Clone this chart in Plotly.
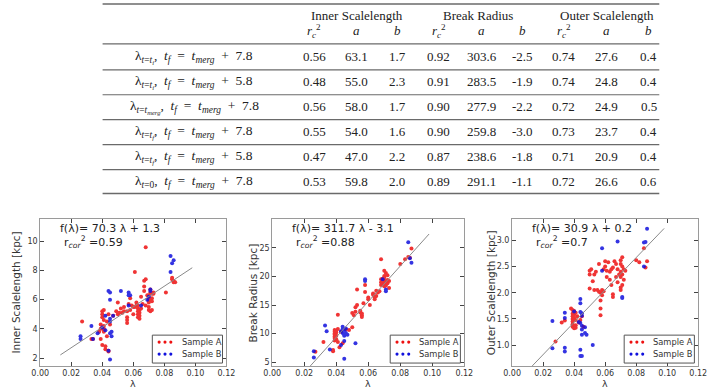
import plotly.graph_objects as go

W, H = 718, 388


def px(x):
    return x / W


def py(y):
    return 1 - y / H


SP = "\u2002"

# ---------------- table data ----------------
row_subs = ["<i>t</i>=<i>t</i><sub><i>i</i></sub>", "<i>t</i>=<i>t</i><sub><i>i</i></sub>",
            "<i>t</i>=<i>t</i><sub><i>merg</i></sub>", "<i>t</i>=<i>t</i><sub><i>f</i></sub>",
            "<i>t</i>=<i>t</i><sub><i>f</i></sub>", "<i>t</i>=0"]
row_tf = ["7.8", "5.8", "7.8", "7.8", "5.8", "7.8"]
group_names = ["Inner Scalelength", "Break Radius", "Outer Scalelength"]
col_heads = ["<i>r</i><sub><i>c</i></sub><sup>2</sup>", "<i>a</i>", "<i>b</i>"]

inner_r2 = ["0.56", "0.48", "0.56", "0.55", "0.47", "0.53"]
inner_a = ["63.1", "55.0", "58.0", "54.0", "47.0", "59.8"]
inner_b = ["1.7", "2.3", "1.7", "1.6", "2.2", "2.0"]
break_r2 = ["0.92", "0.91", "0.90", "0.90", "0.87", "0.89"]
break_a = ["303.6", "283.5", "277.9", "259.8", "238.6", "291.1"]
break_b = ["-2.5", "-1.9", "-2.2", "-3.0", "-1.8", "-1.1"]
outer_r2 = ["0.74", "0.74", "0.72", "0.73", "0.71", "0.72"]
outer_a = ["27.6", "24.8", "24.9", "23.7", "20.9", "26.6"]
outer_b = ["0.4", "0.4", "0.5", "0.4", "0.4", "0.6"]

# ---------------- scatter data ----------------
# Plot 1: inner scalelength
xA1 = [0.027, 0.033, 0.034, 0.038, 0.039, 0.039, 0.039, 0.040, 0.040, 0.040, 0.040, 0.041, 0.041,
       0.041, 0.041, 0.041, 0.041, 0.042, 0.042, 0.043, 0.044, 0.043, 0.044, 0.045, 0.044, 0.047,
       0.049, 0.050, 0.050, 0.051, 0.052, 0.053, 0.054, 0.054, 0.056, 0.056, 0.056, 0.056, 0.057,
       0.058, 0.058, 0.059, 0.060, 0.060, 0.061, 0.061, 0.062, 0.062, 0.063, 0.063, 0.063, 0.063,
       0.063, 0.064, 0.064, 0.064, 0.064, 0.065, 0.065, 0.066, 0.067, 0.067, 0.067, 0.068, 0.068,
       0.068, 0.069, 0.070, 0.070, 0.070, 0.070, 0.070, 0.070, 0.070, 0.071, 0.071, 0.071, 0.071,
       0.072, 0.072, 0.072, 0.072, 0.073, 0.073, 0.081, 0.085, 0.086, 0.086, 0.087, 0.085]
yA1 = [4.5, 3.3, 3.3, 3.8, 4.3, 4.0, 3.3, 2.9, 4.8, 5.0, 5.2, 5.3, 4.6,
       4.2, 4.0, 3.8, 3.9, 2.6, 2.8, 3.5, 2.5, 4.5, 5.0, 4.3, 2.45, 4.9,
       5.2, 5.8, 5.0, 5.1, 5.4, 5.1, 5.5, 5.2, 4.8, 4.6, 4.4, 5.2, 5.7,
       5.3, 6.1, 5.6, 5.5, 5.0, 7.9, 5.5, 5.8, 5.6, 4.8, 5.0, 5.2, 5.4,
       5.6, 4.7, 4.9, 5.1, 5.3, 5.4, 6.2, 5.7, 6.6, 6.9, 7.3, 7.4, 9.6,
       5.6, 6.3, 5.8, 6.0, 6.1, 6.3, 5.3, 5.5, 5.9, 6.0, 5.2, 6.5, 6.7,
       5.3, 6.4, 6.1, 5.9, 6.4, 6.5, 6.5, 7.4, 7.3, 7.2, 7.2, 7.5]
xB1 = [0.026, 0.026, 0.033, 0.034, 0.037, 0.040, 0.042, 0.042, 0.044, 0.045, 0.045, 0.045, 0.045,
       0.045, 0.046, 0.046, 0.044, 0.045, 0.047, 0.052, 0.057, 0.057, 0.057, 0.058, 0.065, 0.069,
       0.070, 0.071, 0.071, 0.084, 0.085, 0.086, 0.084]
yB1 = [3.5, 3.3, 4.2, 3.3, 3.7, 4.1, 4.9, 3.9, 6.6, 6.5, 6.0, 4.5, 4.7,
       3.7, 3.5, 3.8, 2.5, 1.9, 4.9, 6.6, 6.5, 6.3, 5.6, 6.3, 5.6, 6.0,
       6.2, 6.7, 6.6, 9.0, 8.5, 8.7, 7.9]

# Plot 2: break radius
xA2 = [0.027, 0.032, 0.038, 0.038, 0.039, 0.039, 0.039, 0.039, 0.039, 0.039, 0.039, 0.040, 0.040,
       0.040, 0.040, 0.041, 0.041, 0.041, 0.042, 0.043, 0.044, 0.046, 0.048, 0.050, 0.050, 0.051,
       0.052, 0.052, 0.053, 0.053, 0.055, 0.055, 0.056, 0.056, 0.056, 0.057, 0.058, 0.058, 0.060,
       0.060, 0.061, 0.063, 0.063, 0.064, 0.064, 0.064, 0.065, 0.065, 0.066, 0.067, 0.068, 0.068,
       0.068, 0.068, 0.069, 0.069, 0.070, 0.070, 0.070, 0.070, 0.070, 0.070, 0.070, 0.071, 0.071,
       0.071, 0.072, 0.072, 0.072, 0.073, 0.073, 0.080, 0.083, 0.085, 0.086, 0.087]
yA2 = [6.8, 8.5, 6.9, 7.1, 8.8, 9.2, 9.5, 9.8, 10.0, 10.3, 10.6, 10.5, 9.0,
       10.2, 9.6, 10.8, 13.3, 8.5, 7.6, 10.3, 8.3, 10.7, 10.6, 11.1, 13.6, 13.2,
       13.8, 14.6, 15.0, 17.7, 14.0, 13.7, 13.5, 13.2, 12.9, 15.3, 18.5, 17.3, 16.0,
       16.3, 15.0, 16.8, 17.0, 16.3, 16.5, 16.0, 16.6, 17.5, 17.2, 17.4, 18.5, 19.0,
       19.5, 23.0, 19.6, 18.7, 18.3, 18.6, 19.0, 19.3, 19.8, 20.1, 21.0, 20.6, 19.0,
       18.4, 19.4, 20.2, 18.8, 19.2, 18.0, 22.2, 23.0, 23.4, 23.3, 24.9]
xB2 = [0.026, 0.026, 0.033, 0.034, 0.036, 0.043, 0.043, 0.044, 0.044, 0.044, 0.045, 0.045, 0.045,
       0.045, 0.046, 0.046, 0.047, 0.045, 0.052, 0.058, 0.058, 0.069, 0.071, 0.071, 0.085, 0.086,
       0.087]
yB2 = [6.9, 5.8, 11.4, 10.4, 7.2, 8.0, 10.4, 10.8, 10.1, 11.2, 10.6, 9.6, 9.8,
       8.7, 10.9, 10.1, 9.8, 5.6, 8.3, 19.5, 19.2, 19.5, 17.4, 17.7, 26.0, 23.2,
       22.4]

# Plot 3: outer scalelength
xA3 = [0.028, 0.032, 0.034, 0.038, 0.039, 0.039, 0.039, 0.039, 0.039, 0.039, 0.039, 0.040, 0.040,
       0.040, 0.040, 0.041, 0.041, 0.041, 0.041, 0.042, 0.043, 0.044, 0.045, 0.046,
       0.050, 0.050, 0.050, 0.051, 0.052, 0.053, 0.053, 0.054, 0.055, 0.056, 0.056, 0.057, 0.057,
       0.057, 0.057, 0.058, 0.058, 0.058, 0.059, 0.059, 0.060, 0.060, 0.061, 0.061, 0.062, 0.063,
       0.063, 0.064, 0.064, 0.065, 0.065, 0.065, 0.066, 0.067, 0.067, 0.068, 0.068, 0.069, 0.070,
       0.070, 0.070, 0.070, 0.070, 0.070, 0.071, 0.071, 0.071, 0.071, 0.072, 0.072, 0.073, 0.080,
       0.082, 0.085, 0.086, 0.087]
yA3 = [1.07, 1.43, 1.47, 1.70, 1.67, 1.60, 1.55, 1.50, 1.45, 1.40, 1.35, 1.32, 1.65,
       1.58, 1.52, 1.62, 1.48, 1.38, 1.33, 1.55, 1.43, 1.48, 1.55, 1.35,
       2.42, 2.35, 2.08, 2.45, 2.22, 2.35, 2.05, 2.40, 2.05, 2.55, 2.02, 2.00, 1.85,
       1.70, 1.57, 2.05, 2.02, 1.95, 2.03, 2.45, 2.60, 2.50, 2.42, 2.30, 2.58, 2.40,
       2.25, 2.45, 2.15, 1.97, 1.92, 2.48, 2.60, 2.55, 2.30, 2.45, 2.20, 2.35, 2.62,
       2.55, 2.40, 2.30, 2.10, 2.05, 2.68, 2.50, 2.35, 2.15, 2.45, 2.25, 2.42, 2.62,
       2.58, 2.85, 2.48, 2.60]
xB3 = [0.026, 0.026, 0.034, 0.034, 0.034, 0.034, 0.040, 0.043, 0.044, 0.044, 0.044, 0.044, 0.045,
       0.045, 0.045, 0.045, 0.045, 0.044, 0.044, 0.045, 0.047, 0.047, 0.048, 0.052, 0.058, 0.058,
       0.068, 0.071, 0.071, 0.085, 0.086, 0.087, 0.085]
yB3 = [1.46, 0.94, 1.62, 1.52, 0.95, 0.88, 1.64, 1.44, 1.88, 1.80, 1.63, 1.42, 1.37,
       1.56, 1.61, 1.30, 1.20, 0.91, 0.79, 0.79, 1.34, 1.23, 1.20, 1.00, 2.85, 2.42,
       2.98, 1.90, 1.92, 2.96, 2.97, 3.22, 2.50]

fit_a = [70.3, 311.7, 30.9]
fit_b = [1.3, -3.1, 0.2]
fit_r2 = ["0.59", "0.88", "0.7"]
fit_x = [0.013, 0.098]

y_titles = ["Inner Scalelength [kpc]", "Break Radius [kpc]", "Outer Scalelength [kpc]"]
y_ranges = [[1.45, 11.5], [4.3, 30.0], [0.6, 3.4]]
y_ticks = [[2, 4, 6, 8, 10], [5, 10, 15, 20, 25], [1.0, 1.5, 2.0, 2.5, 3.0]]
y_ticktext = [["2", "4", "6", "8", "10"], ["5", "10", "15", "20", "25"],
              ["1.0", "1.5", "2.0", "2.5", "3.0"]]
x_ticks = [0.0, 0.02, 0.04, 0.06, 0.08, 0.10, 0.12]
x_ticktext = ["0.00", "0.02", "0.04", "0.06", "0.08", "0.10", "0.12"]

# ---------------- layout geometry (pixels) ----------------
plot_px = [(32, 223), (270, 467), (516, 707)]
ytitle_x = [7, 250, 494]
top_px, bot_px = 220, 367

fig = go.Figure()
shapes = []
annotations = []

sans = "DejaVu Sans"
serif = "Liberation Serif"

data = [(xA1, yA1, xB1, yB1), (xA2, yA2, xB2, yB2), (xA3, yA3, xB3, yB3)]

layout_axes = {}
for i in range(3):
    sfx = "" if i == 0 else str(i + 1)
    xa, ya, xb, yb = data[i]
    xref = "x" + sfx
    yref = "y" + sfx
    fig.add_trace(go.Scatter(x=xa, y=ya, mode="markers", xaxis=xref, yaxis=yref,
                             marker=dict(color="#ee1111", size=4, line=dict(width=0)),
                             opacity=0.85, showlegend=False))
    fig.add_trace(go.Scatter(x=xb, y=yb, mode="markers", xaxis=xref, yaxis=yref,
                             marker=dict(color="#1111dd", size=4, line=dict(width=0)),
                             opacity=0.85, showlegend=False))
    fy = [fit_a[i] * v + fit_b[i] for v in fit_x]
    fig.add_trace(go.Scatter(x=fit_x, y=fy, mode="lines", xaxis=xref, yaxis=yref,
                             line=dict(color="#8a8a8a", width=1), showlegend=False))

    x0, x1 = plot_px[i]
    layout_axes["xaxis" + sfx] = dict(
        domain=[px(x0), px(x1)], range=[0, 0.12], anchor=yref,
        tickvals=x_ticks, ticktext=x_ticktext, ticks="inside", ticklen=4,
        tickcolor="#444", showline=True, mirror="ticks", linecolor="#9a9a9a",
        linewidth=1, showgrid=False, zeroline=False, ticklabelstandoff=-1,
        tickfont=dict(family=sans, size=8, color="#333"))
    layout_axes["yaxis" + sfx] = dict(
        domain=[py(bot_px), py(top_px)], range=y_ranges[i], anchor=xref,
        tickvals=y_ticks[i], ticktext=y_ticktext[i], ticks="inside", ticklen=4,
        tickcolor="#444", showline=True, mirror="ticks", linecolor="#9a9a9a",
        linewidth=1, showgrid=False, zeroline=False, ticklabelstandoff=0,
        tickfont=dict(family=sans, size=8, color="#333"))

    # axis titles
    annotations.append(dict(x=px((x0 + x1) / 2), y=py(384), xref="paper", yref="paper",
                            text="λ", showarrow=False, xanchor="center", yanchor="middle",
                            font=dict(family=sans, size=9.5, color="#333")))
    annotations.append(dict(x=px(ytitle_x[i]), y=py((top_px + bot_px) / 2), xref="paper",
                            yref="paper", text=y_titles[i], textangle=-90, showarrow=False,
                            xanchor="center", yanchor="middle",
                            font=dict(family=sans, size=10.5, color="#333")))
    # fit annotation
    sign = "+" if fit_b[i] >= 0 else "-"
    annotations.append(dict(x=px(x0 + 18), y=py(229), xref="paper", yref="paper",
                            text="f(λ)= %.1f λ %s %.1f" % (fit_a[i], sign, abs(fit_b[i])),
                            showarrow=False, xanchor="left", yanchor="middle",
                            font=dict(family=sans, size=11, color="#222")))
    annotations.append(dict(x=px(x0 + 22), y=py(243), xref="paper", yref="paper",
                            text="r<sub><i>cor</i></sub><sup>2</sup> =" + fit_r2[i],
                            showarrow=False, xanchor="left", yanchor="middle",
                            font=dict(family=sans, size=11, color="#222")))
    # legend box
    shapes.append(dict(type="rect", xref="paper", yref="paper",
                       x0=px(x1 - 76), x1=px(x1 - 4), y0=py(364), y1=py(336),
                       line=dict(color="#555", width=1), fillcolor="white", layer="above"))
    for row, (col, lab) in enumerate([("#ee1111", "Sample A"), ("#1111dd", "Sample B")]):
        yy = 343 + 12 * row
        for k in range(3):
            cx = x1 - 69 + 6 * k
            shapes.append(dict(type="circle", xref="paper", yref="paper",
                               x0=px(cx - 1.6), x1=px(cx + 1.6), y0=py(yy + 1.6), y1=py(yy - 1.6),
                               line=dict(width=0), fillcolor=col, layer="above"))
        annotations.append(dict(x=px(x1 - 48), y=py(yy), xref="paper", yref="paper",
                                text=lab, showarrow=False, xanchor="left", yanchor="middle",
                                font=dict(family=sans, size=8.3, color="#333")))

# ---------------- table ----------------
tab_l, tab_r = 96, 667
label_cx = 190
col_cx = [[313, 356, 398], [441, 485, 527], [569, 613, 656]]
group_cx = [357, 481, 613]
rule_y = [4, 44, 70, 95, 120, 145, 170, 194]
row_y = [57, 82, 107, 132, 157, 182]

for j, yv in enumerate(rule_y):
    w = 1.7 if j in (0, len(rule_y) - 1) else 1.2
    shapes.append(dict(type="line", xref="paper", yref="paper", x0=px(tab_l), x1=px(tab_r),
                       y0=py(yv), y1=py(yv), line=dict(color="#6a6a6a", width=w)))

tfont = dict(family=serif, size=13, color="#222")
lfont = dict(family=serif, size=13.5, color="#222")
for g in range(3):
    annotations.append(dict(x=px(group_cx[g]), y=py(16), xref="paper", yref="paper",
                            text=group_names[g], showarrow=False, xanchor="center",
                            yanchor="middle", font=tfont))
    for c in range(3):
        annotations.append(dict(x=px(col_cx[g][c]), y=py(31), xref="paper", yref="paper",
                                text=col_heads[c], showarrow=False, xanchor="center",
                                yanchor="middle", font=tfont))

cols = [inner_r2, inner_a, inner_b, break_r2, break_a, break_b, outer_r2, outer_a, outer_b]
for r in range(6):
    label = ("λ<sub>" + row_subs[r] + "</sub>," + SP + "<i>t</i><sub><i>f</i></sub>" + SP + "=" + SP
             + "<i>t</i><sub><i>merg</i></sub>" + SP + "+" + SP + row_tf[r])
    annotations.append(dict(x=px(label_cx), y=py(row_y[r]), xref="paper", yref="paper",
                            text=label, showarrow=False, xanchor="center",
                            yanchor="middle", font=lfont))
    for k, colvals in enumerate(cols):
        annotations.append(dict(x=px(col_cx[k // 3][k % 3]), y=py(row_y[r]), xref="paper",
                                yref="paper", text=colvals[r], showarrow=False,
                                xanchor="center", yanchor="middle", font=tfont))

fig.update_layout(width=W, height=H, margin=dict(l=0, r=0, t=0, b=0),
                  paper_bgcolor="white", plot_bgcolor="white",
                  shapes=shapes, annotations=annotations, showlegend=False, **layout_axes)
fig.write_html("out.html")
